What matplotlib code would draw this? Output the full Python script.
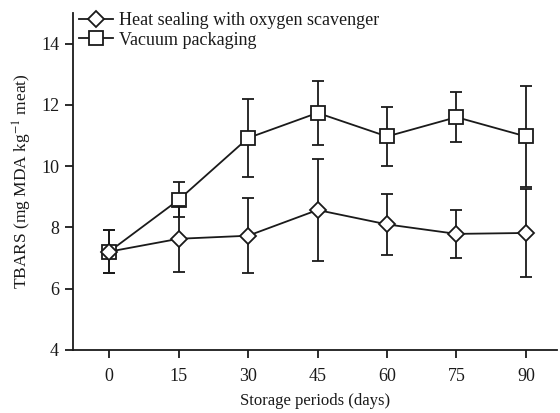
import matplotlib
matplotlib.use("Agg")
import matplotlib.pyplot as plt
from matplotlib.lines import Line2D

days = [0, 15, 30, 45, 60, 75, 90]
heat_mean = [7.21, 7.63, 7.73, 8.57, 8.10, 7.79, 7.82]
heat_err = [0.70, 1.07, 1.22, 1.65, 1.00, 0.79, 1.45]
vac_mean = [7.21, 8.90, 10.92, 11.74, 10.97, 11.60, 10.97]
vac_err = [0.70, 0.57, 1.28, 1.05, 0.96, 0.82, 1.65]
labels = ["Heat sealing with oxygen scavenger", "Vacuum packaging"]
yticks = [4, 6, 8, 10, 12, 14]

plt.rcParams['font.family'] = ['Liberation Serif', 'DejaVu Serif']
plt.rcParams['mathtext.fontset'] = 'stix'

fig = plt.figure(figsize=(5.6, 4.13), dpi=100)
ax = fig.add_axes([73/560, (413-350)/413, (557-73)/560, (350-13)/413])

c = '#1a1a1a'
common = dict(mfc='white', mec=c, mew=1.3, color=c, lw=1.3, capsize=4,
              elinewidth=1.3, capthick=1.3)
ax.errorbar(days, heat_mean, yerr=heat_err, marker='D', ms=8.5, zorder=3, **common)
ax.errorbar(days, vac_mean, yerr=vac_err, marker='s', ms=10, zorder=2, **common)

ax.set_xlim(-7.8, 96.7)
ax.set_ylim(4, 15)
ax.set_xticks(days)
ax.set_yticks(yticks)
for s in ['top', 'right']:
    ax.spines[s].set_visible(False)
for s in ['left', 'bottom']:
    ax.spines[s].set_linewidth(1.3)
    ax.spines[s].set_color(c)
ax.tick_params(direction='out', length=6, width=1.3, labelsize=13, colors=c)
ax.tick_params(axis='x', pad=7)
ax.tick_params(axis='y', pad=4)

ax.set_xlabel("Storage periods (days)", fontsize=12, labelpad=6, color=c)
ax.set_ylabel("TBARS (mg MDA kg$^{-1}$ meat)", fontsize=12.5, labelpad=5, color=c)

handles = [
    Line2D([], [], marker='D', ms=8.5, mfc='white', mec=c, mew=1.3, color=c, lw=1.3),
    Line2D([], [], marker='s', ms=10, mfc='white', mec=c, mew=1.3, color=c, lw=1.3),
]
leg = fig.legend(handles, labels, loc='upper left',
                 bbox_to_anchor=(79/560, 1 - 12/413), frameon=False,
                 fontsize=13, handlelength=1.9, handletextpad=0.3,
                 borderpad=0, borderaxespad=0, labelspacing=0.15)
for t in leg.get_texts():
    t.set_color(c)

fig.savefig("out.png", dpi=100)
